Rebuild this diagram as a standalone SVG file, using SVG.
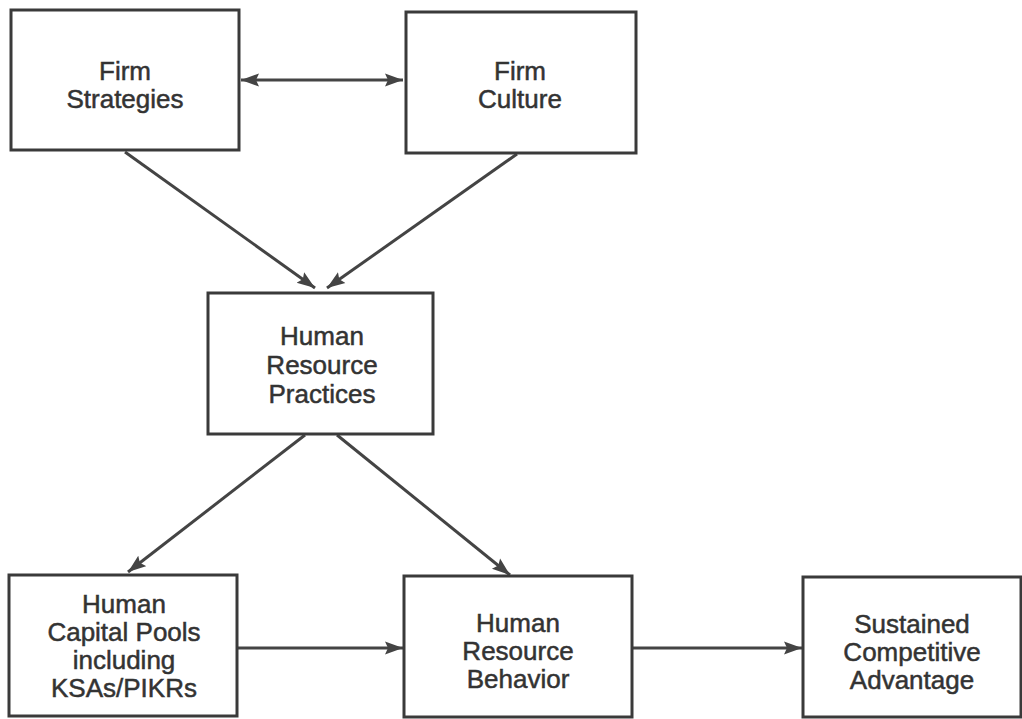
<svg xmlns="http://www.w3.org/2000/svg" width="1022" height="719" viewBox="0 0 1022 719">
  <defs>
    <style>
      .box { fill: #ffffff; stroke: #3a3a3a; stroke-width: 3; }
      .lbl { font-family: "Liberation Sans", Arial, Helvetica, sans-serif; font-size: 26px; fill: #333333; stroke: #333333; stroke-width: 0.5; text-anchor: middle; }
      .conn { stroke: #444444; stroke-width: 3; fill: none; marker-end: url(#arrow); }
      .both { marker-start: url(#arrow); }
    </style>
    <marker id="arrow" markerUnits="userSpaceOnUse" markerWidth="20" markerHeight="15" refX="18" refY="7.5" orient="auto-start-reverse">
      <path d="M0,1 L18,7.5 L0,14 L3,7.5 Z" fill="#444444"/>
    </marker>
  </defs>
  <rect width="1022" height="719" fill="#ffffff"/>

  <g id="connectors">
    <line class="conn both" x1="241" y1="80" x2="403" y2="80"/>
    <line class="conn" x1="125" y1="152" x2="315" y2="288"/>
    <line class="conn" x1="517" y1="154" x2="327" y2="288"/>
    <line class="conn" x1="305" y1="435" x2="128" y2="572"/>
    <line class="conn" x1="337" y1="435" x2="510" y2="575"/>
    <line class="conn" x1="237" y1="648" x2="403" y2="648"/>
    <line class="conn" x1="632" y1="648" x2="802" y2="648"/>
  </g>

  <g id="firm-strategies">
    <rect class="box" x="11" y="10" width="228" height="140"/>
    <text class="lbl" x="125" y="80">Firm</text>
    <text class="lbl" x="125" y="108">Strategies</text>
  </g>

  <g id="firm-culture">
    <rect class="box" x="406" y="12" width="230" height="141"/>
    <text class="lbl" x="520" y="80">Firm</text>
    <text class="lbl" x="520" y="108">Culture</text>
  </g>

  <g id="hr-practices">
    <rect class="box" x="208" y="293" width="225" height="141"/>
    <text class="lbl" x="322" y="345">Human</text>
    <text class="lbl" x="322" y="374">Resource</text>
    <text class="lbl" x="322" y="403">Practices</text>
  </g>

  <g id="human-capital-pools">
    <rect class="box" x="9" y="575" width="228" height="141"/>
    <text class="lbl" x="124" y="613">Human</text>
    <text class="lbl" x="124" y="641">Capital Pools</text>
    <text class="lbl" x="124" y="669">including</text>
    <text class="lbl" x="124" y="697">KSAs/PIKRs</text>
  </g>

  <g id="hr-behavior">
    <rect class="box" x="404" y="576" width="228" height="141"/>
    <text class="lbl" x="518" y="632">Human</text>
    <text class="lbl" x="518" y="660">Resource</text>
    <text class="lbl" x="518" y="688">Behavior</text>
  </g>

  <g id="sustained-competitive-advantage">
    <rect class="box" x="803" y="577" width="218" height="140"/>
    <text class="lbl" x="912" y="633">Sustained</text>
    <text class="lbl" x="912" y="661">Competitive</text>
    <text class="lbl" x="912" y="689">Advantage</text>
  </g>
</svg>
